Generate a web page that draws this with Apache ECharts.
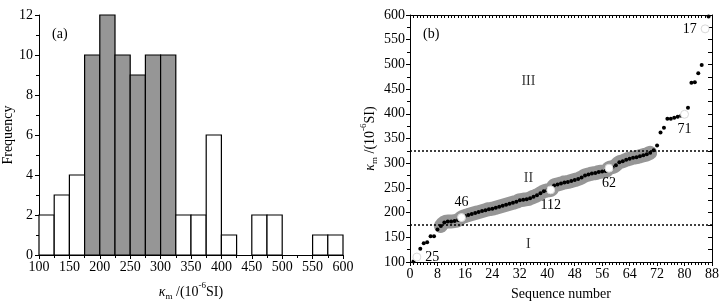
<!DOCTYPE html>
<html>
<head>
<meta charset="utf-8">
<script src="https://cdn.jsdelivr.net/npm/echarts@6/dist/echarts.min.js"></script>
<style>
  html, body { margin: 0; padding: 0; background: #fff; }
  #chart { width: 724px; height: 306px; }
</style>
</head>
<body>
<div id="chart"></div>
<script>
// histogram (a): bins of 25 from 100 to 600
const binStarts = [100, 125, 150, 175, 200, 225, 250, 275, 300, 325, 350, 375, 400, 425, 450, 475, 500, 525, 550, 575];
const binCounts = [2, 3, 4, 10, 12, 10, 9, 10, 10, 2, 2, 6, 1, 0, 2, 2, 0, 0, 1, 1];
const grayFrom = 175, grayTo = 325;

// sorted susceptibility values (b), sequence 1..87
const kappaSorted = [
  101, 110, 127, 138, 140, 152, 152, 166, 173,
  180, 182, 182, 183, 185, 190, 193, 195, 197, 199,
  201, 203, 205, 207, 208, 210, 212, 214, 216, 218, 220, 222,
  225, 226, 227, 229, 232, 235, 239, 243, 245, 246,
  255, 257, 259, 261, 262, 264, 266, 268, 271,
  275, 277, 279, 280, 282, 283, 284, 290, 292, 296,
  302, 304, 307, 309, 311, 312, 314, 316, 318, 321,
  326, 336, 362, 372,
  390, 390, 392, 394, 396, 399,
  412, 463, 464, 482, 499, 572, 597
];
const openSeq = [2, 15, 41, 58, 80, 86];
const openNames = ['25', '46', '112', '62', '71', '17'];
const openLabelPos = ['right', 'top', 'bottom', 'bottom', 'bottom', 'left'];
const bandFrom = 9, bandTo = 70;
const levelLines = [175, 325];

const font = 'Liberation Serif';
const chart = echarts.init(document.getElementById('chart'));

const kappaName = {
  rich: {
    k: { fontFamily: font, fontSize: 14, fontStyle: 'italic', color: '#000', verticalAlign: 'bottom', lineHeight: 18 },
    s: { fontFamily: font, fontSize: 9, color: '#000', verticalAlign: 'bottom', lineHeight: 18, padding: [0, 0, -2, 0] },
    n: { fontFamily: font, fontSize: 14, color: '#000', verticalAlign: 'bottom', lineHeight: 18 },
    sup: { fontFamily: font, fontSize: 9, color: '#000', verticalAlign: 'top', lineHeight: 18 }
  }
};
const kappaText = '{k|κ}{s|m}{n| /(10}{sup|-6}{n|SI)}';

const histData = binStarts.map((b, i) => [b, b + 25, binCounts[i]]);
const seqData = kappaSorted.map((v, i) => [i + 1, v]);
const bandData = seqData.slice(bandFrom - 1, bandTo);
const openData = openSeq.map((n, i) => ({
  value: [n, kappaSorted[n - 1]],
  name: openNames[i],
  label: { position: openLabelPos[i] }
}));

const axisLine = { show: true, onZero: false, lineStyle: { color: '#000', width: 1 } };
const labelStyle = { color: '#000', fontFamily: font, fontSize: 14 };

chart.setOption({
  animation: false,
  grid: [
    { left: 39, top: 15, width: 304, height: 253 },
    { left: 410, top: 15, right: 12, height: 253 }
  ],
  xAxis: [
    {
      gridIndex: 0, type: 'value', min: 100, max: 600, interval: 50,
      name: kappaText, nameLocation: 'middle', nameGap: 26, nameTextStyle: kappaName,
      axisLine: axisLine,
      axisTick: { show: true, length: 4, lineStyle: { color: '#000' } },
      minorTick: { show: true, splitNumber: 2, length: 3, lineStyle: { color: '#000' } },
      axisLabel: Object.assign({ margin: 5 }, labelStyle),
      splitLine: { show: false }
    },
    {
      gridIndex: 1, type: 'value', min: 0, max: 88, interval: 8,
      name: 'Sequence number', nameLocation: 'middle', nameGap: 25,
      nameTextStyle: { color: '#000', fontFamily: font, fontSize: 14 },
      axisLine: axisLine,
      axisTick: { show: true, length: 4, lineStyle: { color: '#000' } },
      minorTick: { show: true, splitNumber: 8, length: 3, lineStyle: { color: '#000' } },
      axisLabel: Object.assign({ margin: 5 }, labelStyle),
      splitLine: { show: false }
    },
    {
      gridIndex: 1, type: 'value', min: 0, max: 88, interval: 1, position: 'top',
      axisLine: axisLine,
      axisTick: { show: true, inside: true, length: 3, lineStyle: { color: '#000' } },
      axisLabel: { show: false },
      splitLine: { show: false }
    }
  ],
  yAxis: [
    {
      gridIndex: 0, type: 'value', min: 0, max: 12, interval: 2,
      name: 'Frequency', nameLocation: 'middle', nameGap: 22,
      nameTextStyle: { color: '#000', fontFamily: font, fontSize: 14 },
      axisLine: axisLine,
      axisTick: { show: true, length: 4, lineStyle: { color: '#000' } },
      minorTick: { show: true, splitNumber: 2, length: 3, lineStyle: { color: '#000' } },
      axisLabel: Object.assign({ margin: 6 }, labelStyle),
      splitLine: { show: false }
    },
    {
      gridIndex: 1, type: 'value', min: 100, max: 600, interval: 50,
      name: kappaText, nameLocation: 'middle', nameGap: 33, nameTextStyle: kappaName,
      axisLine: axisLine,
      axisTick: { show: true, length: 4, lineStyle: { color: '#000' } },
      minorTick: { show: true, splitNumber: 2, length: 3, lineStyle: { color: '#000' } },
      axisLabel: Object.assign({ margin: 5 }, labelStyle),
      splitLine: { show: false }
    },
    {
      gridIndex: 1, type: 'value', min: 100, max: 600, interval: 25, position: 'right',
      axisLine: axisLine,
      axisTick: { show: true, inside: true, length: 4, lineStyle: { color: '#000' } },
      axisLabel: { show: false },
      splitLine: { show: false }
    }
  ],
  graphic: [
    { type: 'text', left: 52, top: 27, style: { text: '(a)', font: '14px "Liberation Serif"', fill: '#000' } },
    { type: 'text', left: 423, top: 27, style: { text: '(b)', font: '14px "Liberation Serif"', fill: '#000' } }
  ],
  series: [
    {
      type: 'custom', xAxisIndex: 0, yAxisIndex: 0,
      data: histData,
      renderItem(params, api) {
        const h = api.value(2);
        if (!h) return null;
        const p0 = api.coord([api.value(0), 0]);
        const p1 = api.coord([api.value(1), h]);
        const gray = api.value(0) >= grayFrom && api.value(1) <= grayTo;
        return {
          type: 'rect',
          shape: { x: p0[0], y: p1[1], width: p1[0] - p0[0], height: p0[1] - p1[1] },
          style: { fill: gray ? '#969696' : '#fff', stroke: '#000', lineWidth: 1.2 }
        };
      }
    },
    {
      type: 'line', xAxisIndex: 1, yAxisIndex: 1,
      data: bandData, smooth: 0.5, symbol: 'none', silent: true, z: 1,
      lineStyle: { color: '#969696', width: 14, cap: 'round', join: 'round', opacity: 1 }
    },
    {
      type: 'scatter', xAxisIndex: 1, yAxisIndex: 1,
      data: seqData, symbolSize: 4, z: 3,
      itemStyle: { color: '#000', opacity: 1 },
      markLine: {
        silent: true, symbol: 'none', label: { show: false },
        lineStyle: { color: '#000', type: [2, 2], width: 1.6 },
        data: levelLines.map(v => ({ yAxis: v }))
      }
    },
    {
      type: 'scatter', xAxisIndex: 1, yAxisIndex: 1,
      data: openData, symbolSize: 8, z: 4,
      itemStyle: { color: '#fff', borderColor: '#d8d8d8', borderWidth: 1, opacity: 1 },
      label: {
        show: true, formatter: '{b}', distance: 4,
        color: '#000', fontFamily: font, fontSize: 14
      }
    },
    {
      type: 'scatter', xAxisIndex: 1, yAxisIndex: 1,
      data: [[34.5, 135, 'I'], [34.5, 270, 'II'], [34.5, 466, 'III']],
      symbolSize: 0, silent: true,
      label: {
        show: true, position: 'inside', formatter: p => p.value[2],
        color: '#000', fontFamily: font, fontSize: 14
      }
    }
  ]
});
</script>
</body>
</html>
